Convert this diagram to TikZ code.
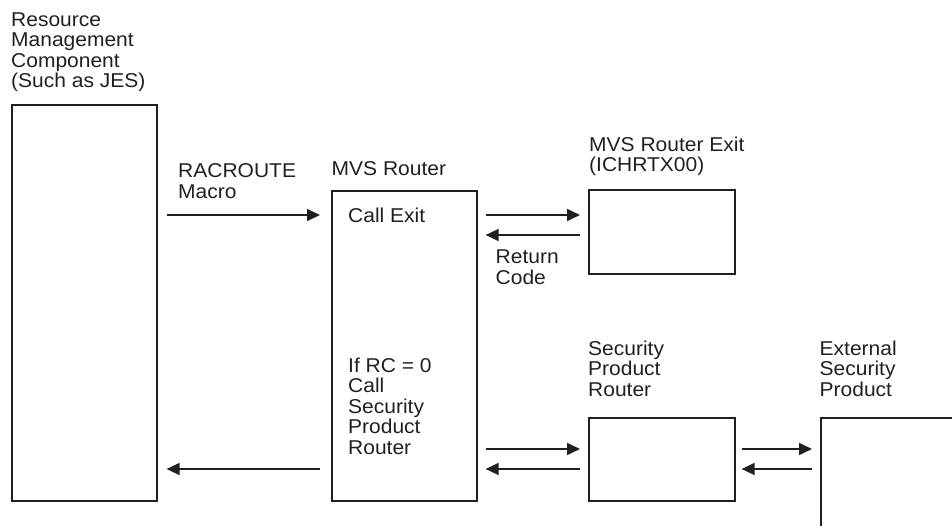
\documentclass[tikz,border=0pt]{standalone}
\usepackage{fontspec}
\setmainfont{Liberation Sans}[FakeStretch=1.05]
\usetikzlibrary{arrows.meta}
\definecolor{ink}{HTML}{231F20}
\begin{document}
\begin{tikzpicture}[x=1pt,y=-1pt,
  box/.style={draw=ink, line width=1.6pt, inner sep=0pt, anchor=north west},
  lbl/.style={anchor=north west, inner sep=0pt, align=left, text=ink,
    font=\fontsize{20}{20.5}\selectfont, execute at begin node=\strut},
  arr/.style={draw=ink, line width=1.6pt, -{Triangle[length=13pt,width=12pt]}}]
\useasboundingbox (0,0) rectangle (952,526);
\clip (0,0) rectangle (952,526);
% boxes
\node[box, minimum width=145pt, minimum height=396pt] (rmc) at (11,104) {};
\node[box, minimum width=145pt, minimum height=310pt] (mvs) at (331,190) {};
\node[box, minimum width=146pt, minimum height=84pt] (exit) at (588,189) {};
\node[box, minimum width=146pt, minimum height=83pt] (spr) at (588,417) {};
\node[box, minimum width=180pt, minimum height=150pt] (ext) at (820,417) {};
% labels
\node[lbl] (rmcl) at (11,12.35) {Resource\\Management\\Component\\(Such as JES)};
\node[lbl] (racl) at (178,163.65) {RACROUTE\\Macro};
\node[lbl] (mvsl) at (331.5,160.65) {MVS Router};
\node[lbl] (callx) at (348,207.35) {Call Exit};
\node[lbl] (exitl) at (589,136.35) {MVS Router Exit\\(ICHRTX00)};
\node[lbl] (retl) at (495.5,249.65) {Return\\Code};
\node[lbl] (ifrc) at (348,357.35) {If RC = 0\\Call\\Security\\Product\\Router};
\node[lbl] (sprl) at (588,340.65) {Security\\Product\\Router};
\node[lbl] (extl) at (819.5,340.65) {External\\Security\\Product};
% level coordinates
\coordinate (ya) at (0,215);
\coordinate (yb) at (0,235);
\coordinate (yc) at (0,449);
\coordinate (yd) at (0,469);
% connectors
\draw[arr, shorten <=9pt, shorten >=11pt] (rmc.east |- ya) -- (mvs.west |- ya);
\draw[arr, shorten <=8pt, shorten >=8pt] (mvs.east |- ya) -- (exit.west |- ya);
\draw[arr, shorten <=8pt, shorten >=8pt] (exit.west |- yb) -- (mvs.east |- yb);
\draw[arr, shorten <=8pt, shorten >=8pt] (mvs.east |- yc) -- (spr.west |- yc);
\draw[arr, shorten <=8pt, shorten >=8pt] (spr.west |- yd) -- (mvs.east |- yd);
\draw[arr, shorten <=6pt, shorten >=8pt] (spr.east |- yc) -- (ext.west |- yc);
\draw[arr, shorten <=8pt, shorten >=6pt] (ext.west |- yd) -- (spr.east |- yd);
\draw[arr, shorten <=11pt, shorten >=9pt] (mvs.west |- yd) -- (rmc.east |- yd);
\end{tikzpicture}
\end{document}
